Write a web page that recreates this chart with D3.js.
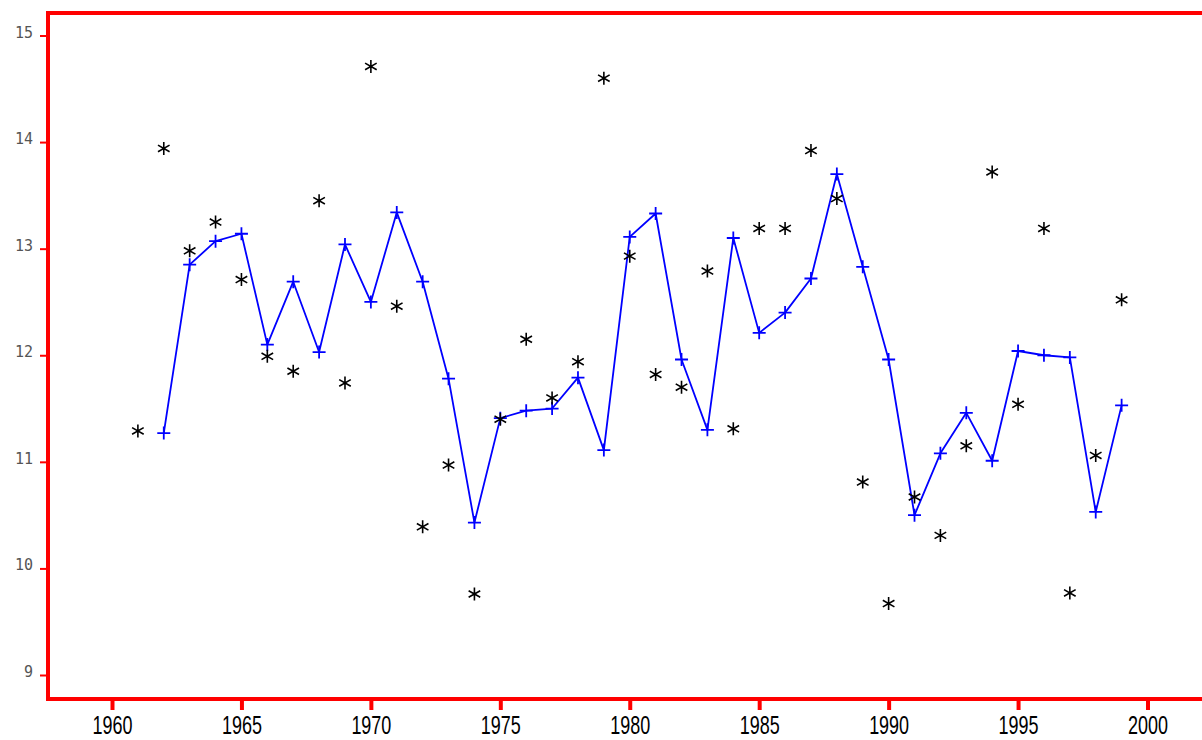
<!DOCTYPE html>
<html>
<head>
<meta charset="utf-8">
<script src="https://cdn.jsdelivr.net/npm/d3@7"></script>
<style>
  html, body { margin: 0; padding: 0; background: #fff; }
  svg { display: block; }
</style>
</head>
<body>
<svg id="chart" width="1202" height="740"></svg>
<script>
// Yearly series: line with "+" markers and scattered "*" observations
const lineYears = [1962,1963,1964,1965,1966,1967,1968,1969,1970,1971,1972,1973,1974,1975,1976,1977,1978,1979,1980,1981,1982,1983,1984,1985,1986,1987,1988,1989,1990,1991,1992,1993,1994,1995,1996,1997,1998,1999];
const lineValues = [11.27,12.85,13.07,13.14,12.10,12.69,12.03,13.04,12.50,13.34,12.69,11.78,10.43,11.41,11.48,11.50,11.79,11.11,13.11,13.33,11.96,11.30,13.10,12.21,12.40,12.72,13.70,12.83,11.96,10.50,11.08,11.46,11.01,12.04,12.00,11.98,10.53,11.53];

const starYears = [1961,1962,1963,1964,1965,1966,1967,1968,1969,1970,1971,1972,1973,1974,1975,1976,1977,1978,1979,1980,1981,1982,1983,1984,1985,1986,1987,1988,1989,1990,1991,1992,1993,1994,1995,1996,1997,1998,1999];
const starValues = [11.29,13.94,12.98,13.25,12.71,11.99,11.85,13.45,11.74,14.71,12.46,10.39,10.97,9.76,11.40,12.15,11.60,11.94,14.60,12.93,11.82,11.70,12.79,11.31,13.19,13.19,13.92,13.47,10.81,9.67,10.67,10.31,11.15,13.72,11.54,13.19,9.77,11.06,12.52];

const xTicks = [1960,1965,1970,1975,1980,1985,1990,1995,2000];
const yTicks = [9,10,11,12,13,14,15];

const W = 1202, H = 740;
const svg = d3.select("#chart");

const x = d3.scaleLinear().domain([1960, 2000]).range([112, 1147.5]);
const y = d3.scaleLinear().domain([9, 15]).range([675, 35.5]);

// frame: top, left and bottom rules
const frame = svg.append("g").attr("stroke", "#ff0000").attr("stroke-width", 4);
frame.append("line").attr("x1", 46).attr("x2", W).attr("y1", 13).attr("y2", 13);
frame.append("line").attr("x1", 48).attr("x2", 48).attr("y1", 11).attr("y2", 701);
frame.append("line").attr("x1", 46).attr("x2", W).attr("y1", 699).attr("y2", 699);

// y axis
const yAxis = svg.append("g")
  .attr("transform", "translate(47,0)")
  .call(d3.axisLeft(y).tickValues(yTicks).tickSize(7).tickPadding(7).tickFormat(d3.format("d")));
yAxis.select(".domain").remove();
yAxis.selectAll(".tick line").attr("stroke", "#ff0000").attr("stroke-width", 2);
yAxis.selectAll(".tick text")
  .attr("dy", "0.1em")
  .attr("fill", "#555")
  .style("font-family", "'DejaVu Sans Mono', monospace")
  .style("font-size", "15px");

// x axis
const xAxis = svg.append("g")
  .attr("transform", "translate(0,700)")
  .call(d3.axisBottom(x).tickValues(xTicks).tickSize(10).tickPadding(0).tickFormat(d3.format("d")));
xAxis.select(".domain").remove();
xAxis.selectAll(".tick line").attr("stroke", "#ff0000").attr("stroke-width", 4);
xAxis.selectAll(".tick text")
  .attr("y", 34)
  .attr("dy", 0)
  .attr("fill", "#000")
  .attr("textLength", 40)
  .attr("lengthAdjust", "spacingAndGlyphs")
  .style("font-family", "'Liberation Sans', sans-serif")
  .style("font-weight", "normal")
  .style("font-size", "25px");

// blue line
const lineData = lineYears.map((yr, i) => ({ yr, v: lineValues[i] }));
svg.append("path")
  .datum(lineData)
  .attr("fill", "none")
  .attr("stroke", "#0000ff")
  .attr("stroke-width", 1.8)
  .attr("stroke-linejoin", "round")
  .attr("d", d3.line().x(d => x(d.yr)).y(d => y(d.v)));

// "+" markers
const plusPath = "M-6.5,0H6.5M0,-6.5V6.5";
svg.append("g").selectAll("path")
  .data(lineData)
  .join("path")
  .attr("transform", d => `translate(${x(d.yr)},${y(d.v)})`)
  .attr("d", plusPath)
  .attr("fill", "none")
  .attr("stroke", "#0000ff")
  .attr("stroke-width", 1.8);

// "*" markers
const starData = starYears.map((yr, i) => ({ yr, v: starValues[i] }));
const starPath = "M0,-6.5V6.5M-5.8,-3.3L5.8,3.3M-5.8,3.3L5.8,-3.3";
svg.append("g").selectAll("path")
  .data(starData)
  .join("path")
  .attr("transform", d => `translate(${x(d.yr)},${y(d.v)})`)
  .attr("d", starPath)
  .attr("fill", "none")
  .attr("stroke", "#000")
  .attr("stroke-width", 1.6);
</script>
</body>
</html>
